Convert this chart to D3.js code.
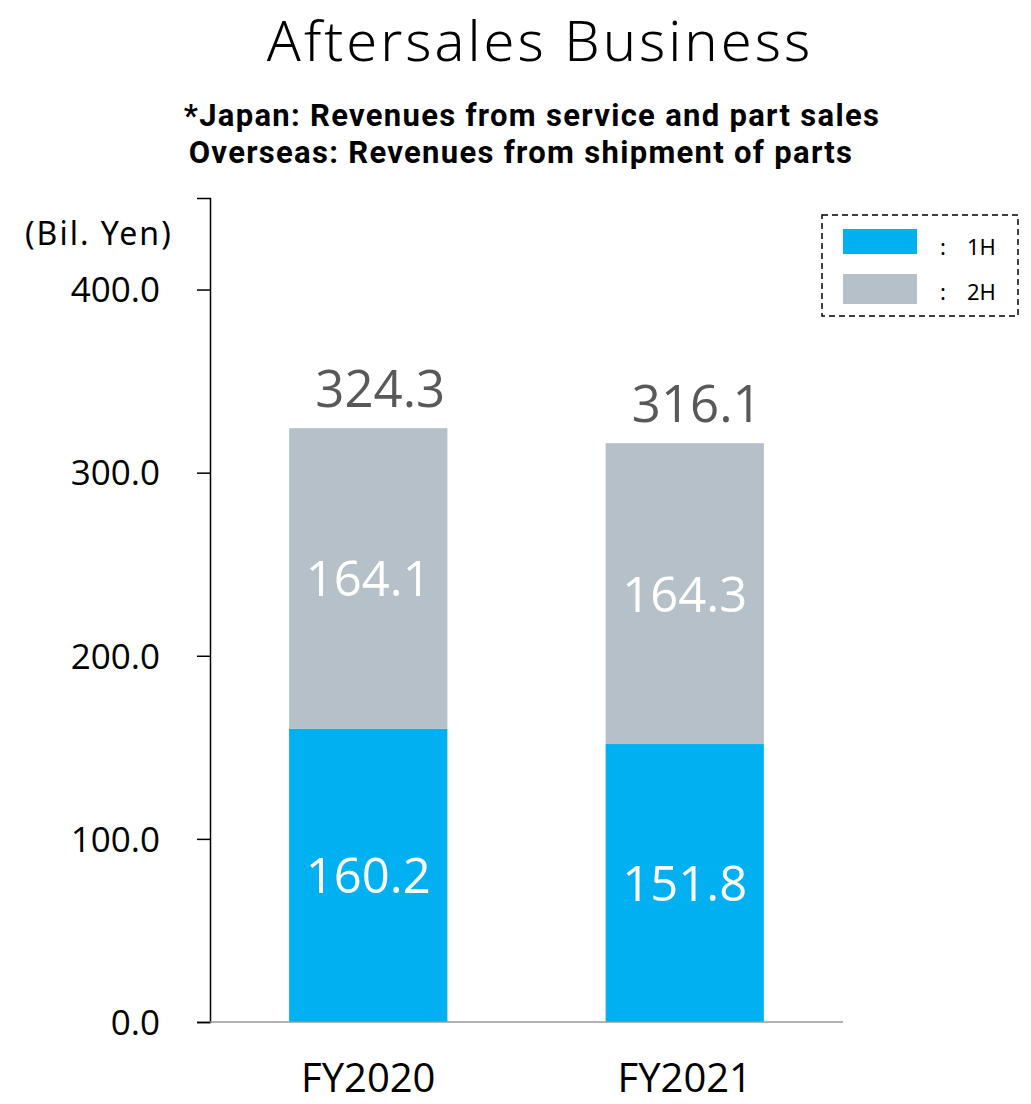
<!DOCTYPE html>
<html>
<head>
<meta charset="utf-8">
<script src="https://cdn.jsdelivr.net/npm/d3@7"></script>
<style>
  body { margin: 0; background: #fff; }
  svg { display: block; }
</style>
</head>
<body>
<div id="chart"></div>
<script>
// data
var categories = ["FY2020", "FY2021"];
var firstHalf = [160.2, 151.8];
var secondHalf = [164.1, 164.3];
var totals = [324.3, 316.1];
var yTicks = [0, 100, 200, 300, 400];
var seriesNames = ["1H", "2H"];

var width = 1031, height = 1104;
var colors = { "1H": "#00b0f0", "2H": "#b5c0c8" };

var svg = d3.select("#chart").append("svg")
    .attr("width", width)
    .attr("height", height);

var x = d3.scaleBand()
    .domain(categories)
    .range([210, 843])
    .paddingInner(0.5)
    .paddingOuter(0.25);

var y = d3.scaleLinear()
    .domain([0, 450])
    .range([1022, 198]);

// title
svg.append("text")
    .attr("x", 540).attr("y", 61)
    .attr("text-anchor", "middle")
    .style("font-family", "'Noto Sans', sans-serif")
    .style("font-weight", 300)
    .style("font-size", "56px")
    .style("letter-spacing", "3px")
    .text("Aftersales Business");

svg.append("text")
    .attr("x", 532).attr("y", 126)
    .attr("text-anchor", "middle")
    .style("font-family", "Roboto, sans-serif")
    .style("font-weight", "bold")
    .style("font-size", "31px")
    .style("letter-spacing", "1.3px")
    .text("*Japan: Revenues from service and part sales");

svg.append("text")
    .attr("x", 521).attr("y", 163)
    .attr("text-anchor", "middle")
    .style("font-family", "Roboto, sans-serif")
    .style("font-weight", "bold")
    .style("font-size", "31px")
    .style("letter-spacing", "1.3px")
    .text("Overseas: Revenues from shipment of parts");

// unit label
svg.append("text")
    .attr("x", 25).attr("y", 245)
    .style("font-family", "'Noto Sans', sans-serif")
    .style("font-size", "32px")
    .style("letter-spacing", "2px")
    .text("(Bil. Yen)");

// stacked data
var stackData = categories.map(function(c, i) {
  return { cat: c, "1H": firstHalf[i], "2H": secondHalf[i], total: totals[i] };
});
var series = d3.stack().keys(seriesNames)(stackData);

var gBars = svg.append("g").classed("bars", true);
series.forEach(function(s) {
  gBars.selectAll("rect.s" + s.key)
      .data(s)
     .enter().append("rect")
      .attr("x", function(d) { return x(d.data.cat); })
      .attr("width", x.bandwidth())
      .attr("y", function(d) { return y(d[1]); })
      .attr("height", function(d) { return y(d[0]) - y(d[1]); })
      .attr("fill", colors[s.key]);

  gBars.selectAll("text.s" + s.key)
      .data(s)
     .enter().append("text")
      .attr("x", function(d) { return x(d.data.cat) + x.bandwidth() / 2; })
      .attr("y", function(d) { return (y(d[0]) + y(d[1])) / 2 + 18; })
      .attr("text-anchor", "middle")
      .attr("fill", "#fff")
      .style("font-family", "'Open Sans', sans-serif")
      .style("font-size", "49px")
      .text(function(d) { return d.data[s.key].toFixed(1); });
});

// totals
gBars.selectAll("text.total")
    .data(stackData)
   .enter().append("text")
    .attr("x", function(d) { return x(d.cat) + x.bandwidth() / 2 + 12; })
    .attr("y", function(d) { return y(d.total) - 21; })
    .attr("text-anchor", "middle")
    .attr("fill", "#595959")
    .style("font-family", "'Open Sans', sans-serif")
    .style("font-size", "51px")
    .text(function(d) { return d.total.toFixed(1); });

// y axis
var yAxis = svg.append("g")
    .attr("transform", "translate(210,0)")
    .call(d3.axisLeft(y).tickValues(yTicks).tickSize(13).tickPadding(37)
      .tickFormat(d3.format(".1f")));
yAxis.select(".domain").attr("stroke", "#000").attr("stroke-width", 1.5);
yAxis.selectAll(".tick line").attr("stroke", "#000").attr("stroke-width", 1.5);
yAxis.selectAll(".tick text")
    .attr("dy", "0.35em")
    .style("font-family", "'Open Sans', sans-serif")
    .style("font-size", "35px")
    .attr("fill", "#000");

// baseline
svg.append("line")
    .attr("x1", 210).attr("x2", 843)
    .attr("y1", y(0)).attr("y2", y(0))
    .attr("stroke", "#999").attr("stroke-width", 1.5);

// x labels
svg.selectAll("text.cat")
    .data(categories)
   .enter().append("text")
    .attr("x", function(d) { return x(d) + x.bandwidth() / 2; })
    .attr("y", 1092)
    .attr("text-anchor", "middle")
    .style("font-family", "'Open Sans', sans-serif")
    .style("font-size", "40px")
    .text(function(d) { return d; });

// legend
var legend = svg.append("g").classed("legend", true);
legend.append("rect")
    .attr("x", 822).attr("y", 215)
    .attr("width", 196).attr("height", 101)
    .attr("fill", "none")
    .attr("stroke", "#000")
    .attr("stroke-width", 1.5)
    .attr("stroke-dasharray", "6,4");

seriesNames.forEach(function(k, i) {
  legend.append("rect")
      .attr("x", 843).attr("y", 229 + i * 45)
      .attr("width", 74).attr("height", i === 0 ? 25 : 30)
      .attr("fill", colors[k]);
  legend.append("text")
      .attr("x", 940).attr("y", 255 + i * 45)
      .style("font-family", "'Noto Sans', sans-serif")
      .style("font-size", "22px")
      .text(":");
  legend.append("text")
      .attr("x", 967).attr("y", 255 + i * 45)
      .style("font-family", "'Noto Sans', sans-serif")
      .style("font-size", "22px")
      .text(k);
});
</script>
</body>
</html>
